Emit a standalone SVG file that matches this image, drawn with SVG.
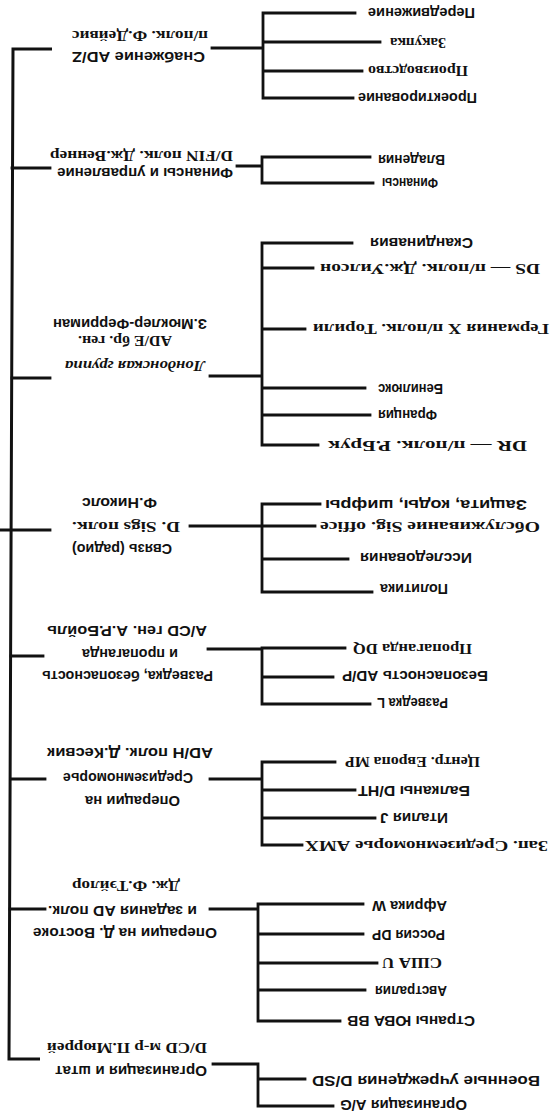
<svg xmlns="http://www.w3.org/2000/svg" width="552" height="1116" viewBox="0 0 552 1116">
<style>
.ln{fill:none;stroke:#111;stroke-width:2.8;stroke-linecap:square}
.tr{fill:none;stroke:#111;stroke-width:3}
text{fill:#111;font-size:15px}
.s{font-family:"Liberation Sans",Arial,sans-serif;font-weight:bold}
.r{font-family:"Liberation Serif","Times New Roman",serif;font-weight:bold}
.rb{font-family:"Liberation Serif","Times New Roman",serif;font-weight:bold}
.ri{font-family:"Liberation Serif","Times New Roman",serif;font-weight:bold;font-style:italic}
</style>
<rect x="0" y="0" width="552" height="1116" fill="#fff"/>
<g transform="rotate(180 276 558)">
<g id="connectors">
<path class="tr" d="M500,1067 H539 L543,57 H512"/>
<path class="ln" d="M540,948 H502 M540,738 H502 M552,586 H502 M541,460 H509 M541,337 H507 M542,207 H507"/>
<path class="ln" d="M340,1068 H289 M289,1103 V1018 M289,1103 H197 M289,1074 H172 M289,1045 H190 M289,1018 H199"/>
<path class="ln" d="M315,950 H290 M290,959 V933 M290,959 H182 M290,933 H179"/>
<path class="ln" d="M342,740 H290 M290,873 V671 M290,873 H200 M290,848 H239 M290,787 H247 M290,728 H187 M290,701 H182 M290,671 H234"/>
<path class="ln" d="M362,590 H290 M290,612 V524 M290,612 H232 M290,590 H237 M290,557 H204 M290,524 H180"/>
<path class="ln" d="M344,467 H290 M290,468 V412 M290,468 H207 M290,439 H219 M290,412 H182"/>
<path class="ln" d="M342,337 H290 M290,354 V271 M290,354 H217 M290,326 H197 M290,298 H177 M290,271 H250"/>
<path class="ln" d="M342,207 H294 M294,212 V95 M294,212 H189 M294,182 H189 M294,153 H175 M294,126 H187 M294,95 H212"/>
<path class="ln" d="M339,52 H294 V10 M294,37 H247 M294,10 H219"/>
</g>
<g id="n-snab">
<text class="s" x="347" y="1064" textLength="133" lengthAdjust="spacingAndGlyphs">Снабжение AD/Z</text>
<text class="r" x="344" y="1085" textLength="136" lengthAdjust="spacingAndGlyphs">п/полк. Ф.Дейвис</text>
</g>
<g id="n-pered"><text class="s" x="77" y="1108" textLength="107" lengthAdjust="spacingAndGlyphs">Передвижение</text></g>
<g id="n-zakup"><text class="r" x="106" y="1078" textLength="56" lengthAdjust="spacingAndGlyphs">Закупка</text></g>
<g id="n-proizv"><text class="r" x="84" y="1050" textLength="100" lengthAdjust="spacingAndGlyphs">Производство</text></g>
<g id="n-proekt"><text class="s" x="75" y="1023" textLength="119" lengthAdjust="spacingAndGlyphs">Проектирование</text></g>
<g id="n-fin">
<text class="s" x="319" y="948" textLength="176" lengthAdjust="spacingAndGlyphs">Финансы и управление</text>
<text class="r" x="319" y="965" textLength="183" lengthAdjust="spacingAndGlyphs">D/FIN полк. Дж.Веннер</text>
</g>
<g id="n-vlad"><text class="s" x="107" y="961" textLength="67" lengthAdjust="spacingAndGlyphs">Владения</text></g>
<g id="n-finansy"><text class="s" x="114" y="938" textLength="56" lengthAdjust="spacingAndGlyphs">Финансы</text></g>
<g id="n-london">
<text class="ri" x="347" y="755" textLength="140" lengthAdjust="spacingAndGlyphs">Лондонская группа</text>
<text class="r" x="380" y="780" textLength="94" lengthAdjust="spacingAndGlyphs">AD/E бр. ген.</text>
<text class="s" x="345" y="797" textLength="154" lengthAdjust="spacingAndGlyphs">З.Мюклер-Ферриман</text>
</g>
<g id="n-skand"><text class="s" x="79" y="878" textLength="103" lengthAdjust="spacingAndGlyphs">Скандинавия</text></g>
<g id="n-ds"><text class="r" x="12" y="852" textLength="220" lengthAdjust="spacingAndGlyphs">DS — п/полк. Дж.Уилсон</text></g>
<g id="n-germ"><text class="r" x="3" y="792" textLength="236" lengthAdjust="spacingAndGlyphs">Германия X п/полк. Торили</text></g>
<g id="n-benel"><text class="s" x="109" y="732" textLength="65" lengthAdjust="spacingAndGlyphs">Бенилюкс</text></g>
<g id="n-franc"><text class="s" x="115" y="706" textLength="59" lengthAdjust="spacingAndGlyphs">Франция</text></g>
<g id="n-dr"><text class="r" x="25" y="675" textLength="199" lengthAdjust="spacingAndGlyphs">DR — п/полк. Р.Брук</text></g>
<g id="n-svyaz">
<text class="s" x="380" y="572" textLength="100" lengthAdjust="spacingAndGlyphs">Связь (радио)</text>
<text class="r" x="372" y="594" textLength="108" lengthAdjust="spacingAndGlyphs">D. Sigs полк.</text>
<text class="s" x="395" y="618" textLength="75" lengthAdjust="spacingAndGlyphs">Ф.Николс</text>
</g>
<g id="n-zash"><text class="s" x="25" y="616" textLength="202" lengthAdjust="spacingAndGlyphs">Защита, коды, шифры</text></g>
<g id="n-obsl"><text class="r" x="12" y="594" textLength="220" lengthAdjust="spacingAndGlyphs">Обслуживание Sig. office</text></g>
<g id="n-issl"><text class="s" x="80" y="563" textLength="112" lengthAdjust="spacingAndGlyphs">Исследования</text></g>
<g id="n-polit"><text class="s" x="104" y="532" textLength="68" lengthAdjust="spacingAndGlyphs">Политика</text></g>
<g id="n-razv">
<text class="s" x="339" y="445" textLength="171" lengthAdjust="spacingAndGlyphs">Разведка, безопасность</text>
<text class="s" x="374" y="467" textLength="96" lengthAdjust="spacingAndGlyphs">и пропаганда</text>
<text class="s" x="345" y="490" textLength="160" lengthAdjust="spacingAndGlyphs">A/CD ген. А.Р.Бойль</text>
</g>
<g id="n-prop"><text class="r" x="80" y="472" textLength="119" lengthAdjust="spacingAndGlyphs">Пропаганда DQ</text></g>
<g id="n-bez"><text class="s" x="64" y="445" textLength="146" lengthAdjust="spacingAndGlyphs">Безопасность AD/P</text></g>
<g id="n-razvL"><text class="s" x="104" y="418" textLength="71" lengthAdjust="spacingAndGlyphs">Разведка L</text></g>
<g id="n-sred">
<text class="s" x="372" y="320" textLength="95" lengthAdjust="spacingAndGlyphs">Операции на</text>
<text class="s" x="359" y="343" textLength="130" lengthAdjust="spacingAndGlyphs">Средиземноморье</text>
<text class="s" x="339" y="368" textLength="166" lengthAdjust="spacingAndGlyphs">AD/H полк. Д.Кесвик</text>
</g>
<g id="n-centr"><text class="r" x="72" y="359" textLength="135" lengthAdjust="spacingAndGlyphs">Центр. Европа MP</text></g>
<g id="n-balk"><text class="s" x="82" y="330" textLength="112" lengthAdjust="spacingAndGlyphs">Балканы D/HT</text></g>
<g id="n-ital"><text class="s" x="104" y="303" textLength="68" lengthAdjust="spacingAndGlyphs">Италия J</text></g>
<g id="n-zap"><text class="r" x="4" y="275" textLength="243" lengthAdjust="spacingAndGlyphs">Зап. Средиземноморье AMX</text></g>
<g id="n-vost">
<text class="s" x="335" y="188" textLength="184" lengthAdjust="spacingAndGlyphs">Операции на Д. Востоке</text>
<text class="s" x="355" y="210" textLength="149" lengthAdjust="spacingAndGlyphs">и задания AD полк.</text>
<text class="r" x="372" y="235" textLength="108" lengthAdjust="spacingAndGlyphs">Дж. Ф.Тэйлор</text>
</g>
<g id="n-afr"><text class="s" x="105" y="215" textLength="75" lengthAdjust="spacingAndGlyphs">Африка W</text></g>
<g id="n-ross"><text class="s" x="107" y="186" textLength="73" lengthAdjust="spacingAndGlyphs">Россия DP</text></g>
<g id="n-usa"><text class="rb" x="110" y="158" textLength="60" lengthAdjust="spacingAndGlyphs">США U</text></g>
<g id="n-avstr"><text class="s" x="105" y="130" textLength="72" lengthAdjust="spacingAndGlyphs">Австралия</text></g>
<g id="n-yuva"><text class="s" x="77" y="100" textLength="128" lengthAdjust="spacingAndGlyphs">Страны ЮВА BB</text></g>
<g id="n-org">
<text class="s" x="345" y="50" textLength="152" lengthAdjust="spacingAndGlyphs">Организация и штат</text>
<text class="r" x="345" y="73" textLength="160" lengthAdjust="spacingAndGlyphs">D/CD м-р П.Мюррей</text>
</g>
<g id="n-voen"><text class="s" x="12" y="40" textLength="228" lengthAdjust="spacingAndGlyphs">Военные учреждения D/SD</text></g>
<g id="n-orgag"><text class="s" x="85" y="16" textLength="127" lengthAdjust="spacingAndGlyphs">Организация A/G</text></g>
</g>
</svg>
